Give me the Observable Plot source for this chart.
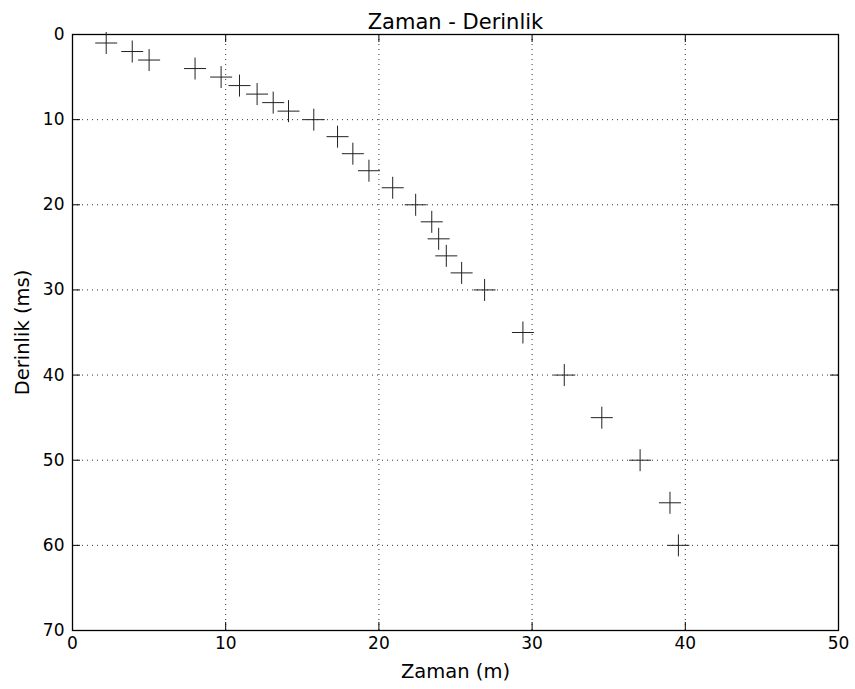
<!DOCTYPE html>
<html>
<head>
<meta charset="utf-8">
<script src="https://cdn.jsdelivr.net/npm/d3@7"></script>
<script src="https://cdn.jsdelivr.net/npm/@observablehq/plot@0.6"></script>
<style>
  html, body { margin: 0; padding: 0; background: #fff; }
  #chart svg { font-family: "DejaVu Sans", sans-serif; }
</style>
</head>
<body>
<div id="chart"></div>
<script>
// Data
const zaman =    [2.2, 3.9, 5.0, 8.0, 9.7, 10.9, 12.05, 13.1, 14.1, 15.75, 17.3, 18.3, 19.35, 20.9, 22.4, 23.45, 23.9, 24.4, 25.4, 26.9, 29.4, 32.1, 34.55, 37.05, 39.0, 39.55];
const derinlik = [1,   2,   3,   4,   5,   6,    7,     8,    9,    10,    12,   14,   16,    18,   20,   22,    24,   26,   28,   30,   35,   40,   45,    50,    55,   60];
const xTicks = [0, 10, 20, 30, 40, 50];
const yTicks = [0, 10, 20, 30, 40, 50, 60, 70];
const xGrid = [10, 20, 30, 40];
const yGrid = [10, 20, 30, 40, 50, 60];
const title = "Zaman - Derinlik";
const xLabel = "Zaman (m)";
const yLabel = "Derinlik (ms)";

const data = zaman.map((z, i) => ({zaman: z, derinlik: derinlik[i]}));

const W = 855, H = 689;
const mL = 72, mR = 17, mT = 34, mB = 59;
const fh = H - mT - mB, fw = W - mL - mR;
const tk = 8;

const crossSymbol = {
  draw(context, size) {
    const r = Math.sqrt(size / Math.PI);
    context.moveTo(-r, 0); context.lineTo(r, 0);
    context.moveTo(0, -r); context.lineTo(0, r);
  }
};

const chart = Plot.plot({
  width: W, height: H,
  marginLeft: mL, marginRight: mR, marginTop: mT, marginBottom: mB,
  style: {fontFamily: "DejaVu Sans, sans-serif", fontSize: "17px", color: "black", background: "white"},
  x: {domain: [0, 50]},
  y: {domain: [0, 70], reverse: true},
  marks: [
    Plot.ruleX(xGrid, {x: d => d, stroke: "black", strokeWidth: 1, strokeDasharray: "1,4", strokeOpacity: 0.8}),
    Plot.ruleY(yGrid, {y: d => d, stroke: "black", strokeWidth: 1, strokeDasharray: "1,4", strokeOpacity: 0.8}),
    Plot.tickX(xTicks, {x: d => d, stroke: "black", insetTop: fh - tk}),
    Plot.tickX(xTicks, {x: d => d, stroke: "black", insetBottom: fh - tk}),
    Plot.tickY(yTicks, {y: d => d, stroke: "black", insetRight: fw - tk}),
    Plot.tickY(yTicks, {y: d => d, stroke: "black", insetLeft: fw - tk}),
    Plot.frame({stroke: "black", strokeWidth: 1.3}),
    Plot.axisX(xTicks, {tickSize: 0, tickPadding: 6, fontSize: 17, label: null}),
    Plot.axisY(yTicks, {tickSize: 0, tickPadding: 8, fontSize: 17, label: null}),
    Plot.dot(data, {x: "zaman", y: "derinlik", symbol: crossSymbol, r: 11, stroke: "#222", strokeWidth: 1, fill: "none"}),
    Plot.text([title], {frameAnchor: "top", dy: -20, fontSize: 21, text: d => d, fill: "black"}),
    Plot.text([xLabel], {frameAnchor: "bottom", dy: 47, fontSize: 19.5, text: d => d, fill: "black"}),
    Plot.text([yLabel], {frameAnchor: "left", dx: -50, rotate: -90, textAnchor: "middle", fontSize: 19.5, text: d => d, fill: "black"})
  ]
});
document.getElementById("chart").appendChild(chart);
</script>
</body>
</html>
